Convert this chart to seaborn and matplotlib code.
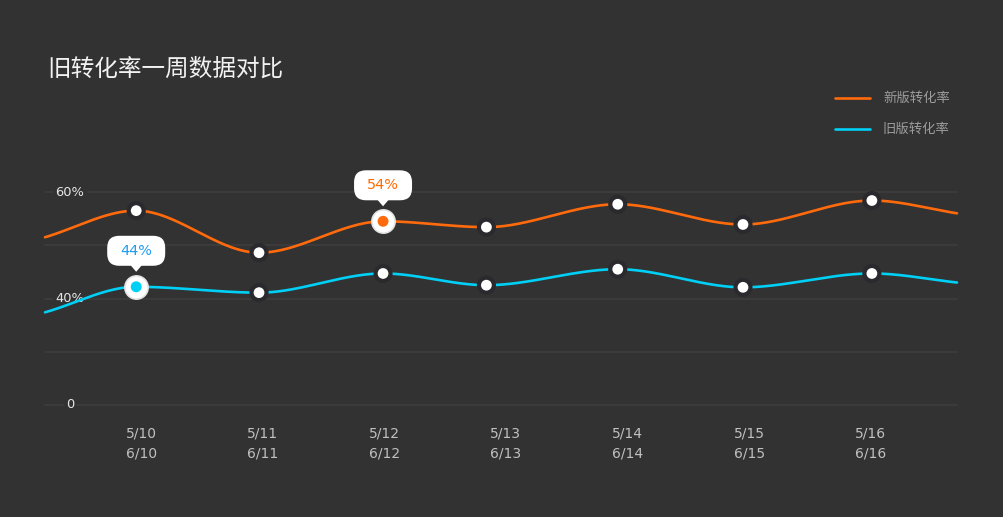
import numpy as np
import pandas as pd
import matplotlib
matplotlib.use("Agg")
import matplotlib.pyplot as plt
import seaborn as sns
from matplotlib.patches import FancyBboxPatch, Polygon
from matplotlib.lines import Line2D
from matplotlib.transforms import IdentityTransform

# ---------------- data ----------------
dates_top = ["5/10", "5/11", "5/12", "5/13", "5/14", "5/15", "5/16"]
dates_bottom = ["6/10", "6/11", "6/12", "6/13", "6/14", "6/15", "6/16"]
point_x = [-0.04, 0.97, 1.99, 2.84, 3.92, 4.95, 6.01]
edge_x = [-0.79, 6.71]
new_name = "新版转化率"
old_name = "旧版转化率"
new_rate = [56.5, 48.6, 54.5, 53.4, 57.7, 53.9, 58.4]
new_edges = [51.5, 56.0]
old_rate = [42.2, 41.1, 44.7, 42.5, 45.5, 42.1, 44.7]
old_edges = [37.4, 43.0]
y_grid_values = [20, 30, 40, 50, 60]
y_grid_labels = ["0", "", "40%", "", "60%"]
highlight_series = [old_name, new_name]
highlight_index = [0, 2]
highlight_text = ["44%", "54%"]
title = "旧转化率一周数据对比"

# ---------------- style ----------------
BG = "#323232"
GRID = "#3d3d3d"
ORANGE = "#ff6a0d"
CYAN = "#00d0f5"
colors = {new_name: ORANGE, old_name: CYAN}
text_colors = {new_name: "#ff6a00", old_name: "#1f9cf0"}
NUM_FONT = ["DejaVu Sans"]

sns.set_style("dark")
plt.rcParams["font.family"] = ["Noto Sans CJK SC", "DejaVu Sans"]

W, H = 1004, 517
fig = plt.figure(figsize=(W / 100, H / 100), dpi=100, facecolor=BG)
ax = fig.add_axes([45 / W, 1 - 405 / H, 912 / W, 213 / H])
ax.set_facecolor(BG)
ax.set_xlim(edge_x[0], edge_x[1])
ax.set_ylim(y_grid_values[0], y_grid_values[-1])
for s in ax.spines.values():
    s.set_visible(False)


def pchip(x, y, xs):
    x = np.asarray(x, float)
    y = np.asarray(y, float)
    h = np.diff(x)
    d = np.diff(y) / h
    n = len(x)
    m = np.zeros(n)
    m[0], m[-1] = d[0], d[-1]
    for k in range(1, n - 1):
        if d[k - 1] * d[k] <= 0:
            m[k] = 0
        else:
            w1 = 2 * h[k] + h[k - 1]
            w2 = h[k] + 2 * h[k - 1]
            m[k] = (w1 + w2) / (w1 / d[k - 1] + w2 / d[k])
    out = np.empty_like(xs)
    idx = np.clip(np.searchsorted(x, xs) - 1, 0, n - 2)
    for i, xv in enumerate(xs):
        k = idx[i]
        t = (xv - x[k]) / h[k]
        h00 = 2 * t**3 - 3 * t**2 + 1
        h10 = t**3 - 2 * t**2 + t
        h01 = -2 * t**3 + 3 * t**2
        h11 = t**3 - t**2
        out[i] = h00 * y[k] + h10 * h[k] * m[k] + h01 * y[k + 1] + h11 * h[k] * m[k + 1]
    return out


xs_dense = np.linspace(edge_x[0], edge_x[1], 600)
frames = []
for name, vals, edges in [(new_name, new_rate, new_edges), (old_name, old_rate, old_edges)]:
    xx = [edge_x[0]] + point_x + [edge_x[1]]
    yy = [edges[0]] + vals + [edges[1]]
    frames.append(pd.DataFrame({"x": xs_dense, "y": pchip(xx, yy, xs_dense), "series": name}))
curves = pd.concat(frames, ignore_index=True)

pts = pd.concat([
    pd.DataFrame({"x": point_x, "y": new_rate, "series": new_name}),
    pd.DataFrame({"x": point_x, "y": old_rate, "series": old_name}),
], ignore_index=True)

# gridlines
for v in y_grid_values:
    ax.axhline(v, color=GRID, lw=1.2, zorder=0, clip_on=False)

# y labels
for v, lab in zip(y_grid_values, y_grid_labels):
    if lab:
        ax.text(25 / 912, v, lab, transform=ax.get_yaxis_transform(), ha="center", va="center",
                fontsize=9.4, color="#e6e6e6", zorder=1, family=NUM_FONT,
                bbox=dict(facecolor=BG, edgecolor="none", pad=1.5))

sns.lineplot(data=curves, x="x", y="y", hue="series", palette=colors, sort=False,
             estimator=None, legend=False, linewidth=1.9, ax=ax, zorder=2)
for line in ax.lines:
    line.set_clip_on(False)

# markers
is_hl = np.zeros(len(pts), bool)
for sname, i in zip(highlight_series, highlight_index):
    is_hl[(pts["series"] == sname).to_numpy() & (np.arange(len(pts)) % len(point_x) == i)] = True
normal = pts[~is_hl]
hl = pts[is_hl]
sns.scatterplot(data=normal, x="x", y="y", s=190, color="#2a2a2e", edgecolor="none",
                ax=ax, zorder=3, legend=False, clip_on=False)
sns.scatterplot(data=normal, x="x", y="y", s=60, color="white", edgecolor="none",
                ax=ax, zorder=4, legend=False, clip_on=False)
sns.scatterplot(data=hl, x="x", y="y", s=280, color="white", edgecolor="#e4e4e4", linewidth=1.2,
                ax=ax, zorder=4, legend=False, clip_on=False)
sns.scatterplot(data=hl, x="x", y="y", hue="series", palette=colors, s=62, edgecolor="none",
                ax=ax, zorder=5, legend=False, clip_on=False)

ax.set_xlabel("")
ax.set_ylabel("")
ax.set_yticks([])
ax.set_xticks(range(len(dates_top)))
ax.set_xticklabels([f"{a}\n{b}" for a, b in zip(dates_top, dates_bottom)],
                   fontsize=10, color="#c0c0c0", linespacing=1.5, family=NUM_FONT)
ax.tick_params(axis="x", length=0, pad=15.5)

# tooltips
ident = IdentityTransform()
for sname, i, txt in zip(highlight_series, highlight_index, highlight_text):
    vals = new_rate if sname == new_name else old_rate
    px, py = ax.transData.transform((point_x[i], vals[i]))
    cx, cy = px, py + 36
    bw, bh = 58, 30
    box = FancyBboxPatch((cx - bw / 2, cy - bh / 2), bw, bh,
                         boxstyle="round,pad=0,rounding_size=12",
                         facecolor="white", edgecolor="none", transform=ident, zorder=6)
    fig.add_artist(box)
    tri = Polygon([(px - 6, cy - bh / 2 + 1), (px + 6, cy - bh / 2 + 1), (px, cy - bh / 2 - 6)],
                  closed=True, facecolor="white", edgecolor="none", transform=ident, zorder=6)
    fig.add_artist(tri)
    fig.text(cx / W, cy / H, txt, ha="center", va="center", fontsize=10.4,
             color=text_colors[sname], zorder=7, family=NUM_FONT)

# legend
for k, (name, y_px) in enumerate([(new_name, 98), (old_name, 129)]):
    fig.add_artist(Line2D([835 / W, 870 / W], [1 - y_px / H] * 2, transform=fig.transFigure,
                          color=colors[name], lw=1.9))
    fig.text(883 / W, 1 - y_px / H, name, ha="left", va="center", fontsize=9.6, color="#9c9c9c")

# title
fig.text(47 / W, 1 - 69 / H, title, ha="left", va="center", fontsize=17, color="#f2f2f2")

fig.savefig("out.png", dpi=100, facecolor=BG)
